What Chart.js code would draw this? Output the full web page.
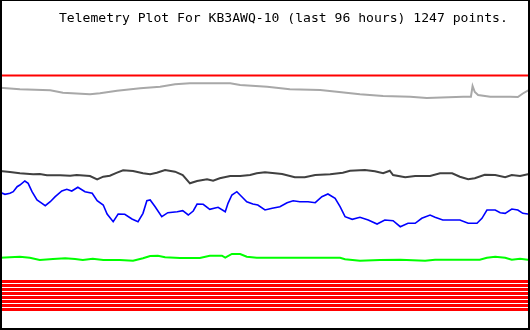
<!DOCTYPE html>
<html>
<head>
<meta charset="utf-8">
<script src="https://cdn.jsdelivr.net/npm/chart.js@4"></script>
<style>
  html, body { margin: 0; padding: 0; background: #fff; }
  canvas { display: block; }
</style>
</head>
<body>
<canvas id="c" width="530" height="330"></canvas>
<script>
// Title
const titleText = "Telemetry Plot For KB3AWQ-10 (last 96 hours) 1247 points.";

// Time (hours into the 96 h window) and values (raw counts) for each channel
const redTopT = [0, 96];
const redTopV = [254.5, 254.5];

const grayT = [0, 3.6, 9.1, 11.4, 16.3, 18.1, 21.2, 25.4, 29.0, 31.7, 34.4, 41.7, 43.5, 48.4, 52.5, 58.0, 61.0, 65.2, 69.4, 74.3, 77.3, 83.9, 85.3, 85.6, 86.0, 86.6, 88.8, 92.4, 93.8, 94.7, 95.6, 96];
const grayV = [242.3, 240.7, 239.7, 237.3, 235.7, 236.7, 239.3, 241.7, 243.3, 245.7, 246.7, 246.7, 245, 243.3, 240.7, 240, 238.3, 235.7, 234, 233.3, 232, 233.3, 233.3, 244, 238, 235, 233.3, 233.3, 233, 236.5, 239.3, 240];

const darkT = [0, 1.8, 3.6, 6.0, 7.2, 8.5, 10.9, 12.7, 13.9, 16.3, 17.6, 18.7, 19.9, 21.2, 22.3, 24.1, 25.9, 27.2, 28.4, 29.9, 31.7, 33.1, 34.4, 35.7, 37.5, 38.6, 39.8, 41.7, 43.5, 45.3, 46.5, 48.0, 49.8, 51.1, 53.4, 55.2, 57.1, 59.8, 62.1, 63.4, 66.1, 67.9, 69.4, 70.6, 71.2, 73.4, 75.2, 77.9, 79.7, 81.9, 83.3, 84.8, 86.0, 87.8, 89.7, 91.5, 92.7, 94.2, 95.6, 96];
const darkV = [159, 158, 156.7, 155.7, 156, 154.7, 154.7, 154.3, 155, 154, 150.7, 153.3, 154.3, 157.3, 159.7, 159, 156.7, 155.7, 157.3, 160, 158.3, 155, 146.7, 149, 150.7, 149.3, 151.7, 154, 154, 155, 156.7, 157.8, 156.7, 156, 152.7, 152.7, 155, 155.7, 157.3, 159.3, 160, 158.7, 156.7, 159.3, 155, 152.7, 154, 154, 156.7, 156.7, 153.3, 150.7, 151.7, 155.3, 155, 152.7, 155, 154, 155.7, 155.7];

const blueT = [0, 0.9, 1.8, 2.4, 3.1, 3.6, 4.5, 5.1, 5.8, 6.7, 7.6, 8.2, 9.1, 10.0, 11.2, 12.1, 13.0, 14.1, 15.4, 16.7, 17.6, 18.7, 19.4, 20.5, 21.4, 22.6, 23.9, 25.0, 25.9, 26.6, 27.2, 28.1, 29.3, 30.4, 32.1, 33.1, 34.1, 35.0, 35.7, 36.8, 38.0, 39.5, 40.8, 41.3, 42.0, 42.9, 43.8, 44.7, 45.8, 46.7, 48.0, 49.3, 50.7, 52.0, 53.1, 54.3, 55.8, 57.1, 58.3, 59.4, 60.7, 61.6, 62.5, 63.8, 65.2, 66.7, 68.3, 69.7, 71.2, 72.5, 73.9, 75.2, 76.4, 77.9, 78.8, 80.2, 81.9, 83.3, 84.8, 86.4, 87.3, 88.2, 89.7, 90.6, 91.5, 92.7, 93.8, 94.7, 95.6, 96];
const blueV = [137.7, 135.7, 136.7, 138.3, 143.3, 145, 149, 146.7, 138.3, 130, 126.7, 124.3, 128.3, 133.3, 139, 140.7, 139, 142.7, 138.3, 136.7, 129.3, 125, 116, 108.3, 116, 115.7, 111, 108.3, 116.7, 129.3, 130, 123.3, 113.3, 117.3, 118.3, 119.3, 115, 119, 126, 125.7, 120.7, 122.7, 118.3, 126.7, 135, 138.3, 133.3, 128.3, 126, 125, 120, 121.7, 123.3, 127.3, 129.3, 128.3, 128.3, 127.3, 133.3, 136, 131.7, 123.3, 113.3, 110.7, 112.7, 110, 106, 110, 109.3, 103.3, 106.7, 106.7, 111.7, 115, 112.7, 110, 110, 110, 106.7, 106.7, 111.7, 120, 120, 117.3, 116.7, 121, 120, 116.7, 116, 116];

const greenT = [0, 3.6, 5.4, 7.2, 9.6, 11.8, 13.6, 15.0, 16.8, 18.7, 21.7, 24.1, 25.9, 27.2, 28.6, 29.9, 32.6, 36.2, 38.0, 40.2, 40.8, 42.0, 43.5, 44.7, 46.5, 61.6, 62.5, 65.2, 68.8, 72.5, 77.0, 78.8, 86.9, 88.2, 89.7, 91.5, 92.7, 94.2, 95.6, 96];
const greenV = [72.3, 73.3, 72.3, 70, 71, 71.7, 71, 70, 71.3, 70, 70, 69.3, 71.7, 74, 74.3, 72.7, 72, 72, 74.3, 74.3, 72.3, 76, 76, 73.3, 72.3, 72.3, 70.7, 69.3, 70, 70.3, 69.3, 70.3, 70.3, 72.3, 73.3, 72.3, 70.3, 71.3, 70.3, 70.3];

// Eight status channels near the bottom (constant levels)
const statusLevels = [48.5, 44.5, 40.5, 36.5, 32.5, 28.5, 24.5, 20.5];

function pts(t, v) { return t.map((x, i) => ({ x: x, y: v[i] })); }

const datasets = [];
statusLevels.forEach(lv => {
  datasets.push({ data: pts([0, 96], [lv, lv]), borderColor: '#ff0000', borderWidth: 3 });
});
datasets.push({ data: pts(greenT, greenV), borderColor: '#00ff00', borderWidth: 2 });
datasets.push({ data: pts(blueT, blueV), borderColor: '#0000ff', borderWidth: 1.6 });
datasets.push({ data: pts(darkT, darkV), borderColor: '#404040', borderWidth: 2 });
datasets.push({ data: pts(grayT, grayV), borderColor: '#a8a8a8', borderWidth: 2 });
datasets.push({ data: pts(redTopT, redTopV), borderColor: '#ff0000', borderWidth: 2 });

const frame = {
  id: 'frame',
  beforeDraw(chart) {
    const ctx = chart.ctx;
    ctx.save();
    ctx.fillStyle = '#ffffff';
    ctx.fillRect(0, 0, chart.width, chart.height);
    ctx.restore();
  },
  afterDraw(chart) {
    const ctx = chart.ctx;
    const w = chart.width, h = chart.height;
    ctx.save();
    ctx.fillStyle = '#000000';
    ctx.fillRect(0, 0, w, 1);
    ctx.fillRect(0, 0, 2, h);
    ctx.fillRect(w - 2, 0, 2, h);
    ctx.fillRect(0, h - 2, w, 2);
    // fit the title between x=59 and x=508 as in the original
    let size = 13;
    ctx.font = size + 'px "DejaVu Sans Mono", monospace';
    const mw = ctx.measureText(titleText).width;
    size = size * 449 / mw;
    ctx.font = size.toFixed(2) + 'px "DejaVu Sans Mono", monospace';
    ctx.textBaseline = 'alphabetic';
    ctx.textAlign = 'left';
    ctx.fillText(titleText, 59, 21.5);
    ctx.restore();
  }
};

new Chart(document.getElementById('c'), {
  type: 'line',
  data: { datasets: datasets },
  options: {
    responsive: false,
    animation: false,
    devicePixelRatio: 1,
    layout: { padding: 0 },
    elements: { point: { radius: 0 }, line: { tension: 0 } },
    plugins: { legend: { display: false }, tooltip: { enabled: false }, title: { display: false } },
    scales: {
      x: { type: 'linear', min: 0, max: 96, display: false },
      y: { type: 'linear', min: 0, max: 330, display: false }
    }
  },
  plugins: [frame]
});
</script>
</body>
</html>
